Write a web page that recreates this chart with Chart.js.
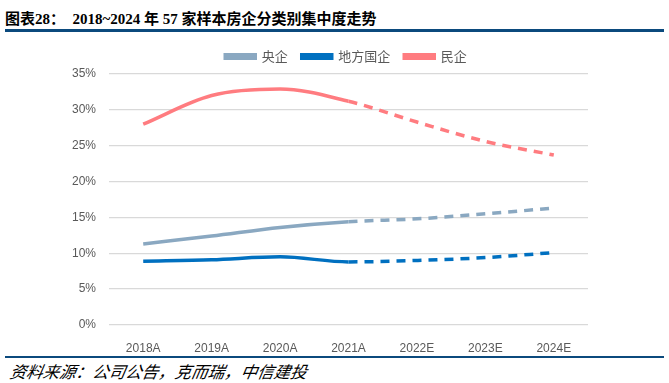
<!DOCTYPE html>
<html><head><meta charset="utf-8">
<script src="https://cdn.jsdelivr.net/npm/chart.js@4"></script>
<style>
html,body{margin:0;padding:0;background:#fff;width:669px;height:383px;overflow:hidden;position:relative;}
#title{position:absolute;left:5px;top:7px;font:bold 15px "Liberation Serif","Noto Sans CJK SC";color:#000;white-space:pre;}
#title .cj{font-family:"Noto Sans CJK SC";}
#tline{position:absolute;left:5px;top:29px;width:659px;height:3px;background:#0B4A7D;}
#bline{position:absolute;left:5px;top:356px;width:659px;height:2px;background:#0B4A7D;}
#foot{position:absolute;left:8px;top:359px;font:italic 16.5px "Noto Sans CJK SC";color:#000;transform:skewX(-10deg);transform-origin:left bottom;}
#wrap{position:absolute;left:0;top:40px;width:669px;height:312px;}
</style></head><body>
<div id="title"><span class="cj">图表</span>28<span class="cj">：</span>  2018~2024 <span class="cj">年</span> 57 <span class="cj">家样本房企分类别集中度走势</span></div>
<div id="tline"></div>
<div id="wrap"><canvas id="c" width="669" height="312"></canvas></div>
<div id="bline"></div>
<div id="foot">资料来源：公司公告，克而瑞，中信建投</div>
<script>
const categories = ["2018A","2019A","2020A","2021A","2022E","2023E","2024E"];
const seriesNames = ["央企","地方国企","民企"];
const central = [11.3, 12.4, 13.6, 14.4, 14.8, 15.5, 16.3];
const local = [8.9, 9.1, 9.5, 8.8, 9.0, 9.4, 10.1];
const privateCo = [28.0, 32.0, 32.9, 31.2, 28.3, 25.6, 23.7];
const yTicks = [0,5,10,15,20,25,30,35];
const forecastFrom = 3;

const colors = ["#8AA8C1","#0070C0","#FF7C80"];
const values = [central, local, privateCo];
const dashed = ctx => ctx.p0DataIndex >= forecastFrom ? [9,7] : undefined;

new Chart(document.getElementById('c'), {
  type:'line',
  data:{
    labels:categories,
    datasets: seriesNames.map((n,i)=>({
      label:n, data:values[i], borderColor:colors[i], backgroundColor:colors[i],
      borderWidth:3.5, pointRadius:0, tension:0.4, cubicInterpolationMode:'monotone',
      borderCapStyle:'butt', segment:{borderDash:dashed}
    }))
  },
  options:{
    responsive:false, animation:false,
    layout:{padding:{left:23,right:0,top:-4,bottom:0}},
    plugins:{
      legend:{position:'top',
        labels:{boxWidth:30,boxHeight:3.5,padding:14,color:'#595959',
          font:{family:'"Noto Sans CJK SC"',size:13}}},
      tooltip:{enabled:false}
    },
    scales:{
      x:{type:'category',offset:true,
        grid:{display:false},border:{display:false},
        ticks:{color:'#595959',font:{family:'"Liberation Sans"',size:12},padding:8,maxRotation:0},
        afterFit:s=>{s.height=27;}},
      y:{min:0,max:35,
        grid:{color:'#D9D9D9',lineWidth:1.3,drawTicks:false},border:{display:false},
        afterBuildTicks:s=>{s.ticks=yTicks.map(v=>({value:v}));},
        ticks:{color:'#595959',font:{family:'"Liberation Sans"',size:12},padding:13,
          callback:v=>v+'%'},
        afterFit:s=>{s.width=86;}},
      yr:{position:'right',min:0,max:35,display:true,
        grid:{display:false,drawOnChartArea:false},border:{display:false},
        ticks:{display:false},
        afterFit:s=>{s.width=81;}}
    }
  },
  plugins:[{id:'fixLegend',afterInit(chart){
    const lg = chart.legend;
    const of = lg.fit.bind(lg);
    lg.fit = function(){ of(); this.height = 38; };
  }}]
});
</script>
</body></html>
